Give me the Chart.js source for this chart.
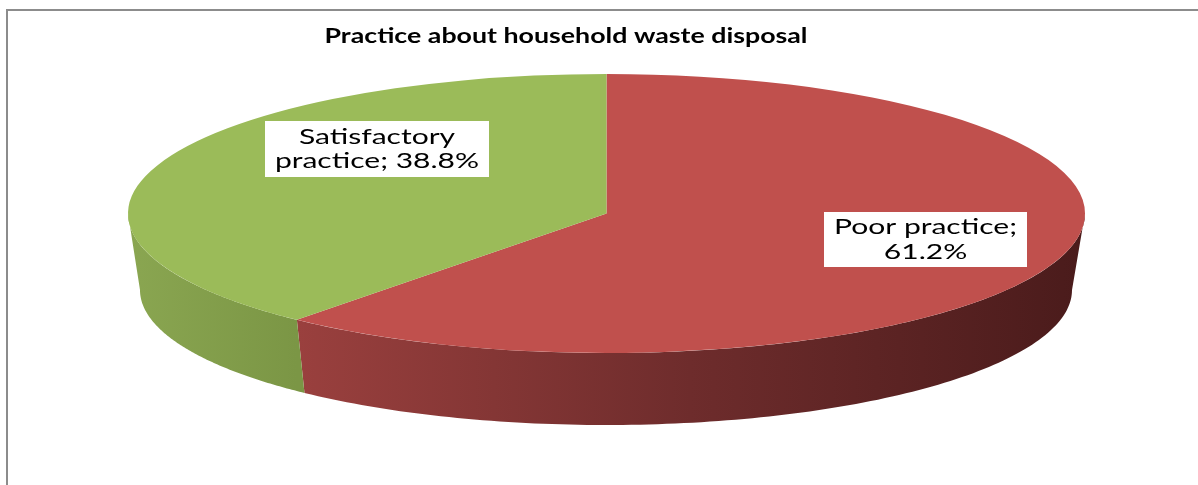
<!DOCTYPE html>
<html><head><meta charset="utf-8">
<script src="https://cdn.jsdelivr.net/npm/chart.js@4/dist/chart.umd.min.js"></script>
<style>html,body{margin:0;padding:0;background:#fff;overflow:hidden}canvas{display:block}</style>
</head><body>
<canvas id="c" width="1198" height="485"></canvas>
<script>
// ---- data ----
const chartTitle = 'Practice about household waste disposal';
const categories = ['Poor practice', 'Satisfactory practice'];
const percentages = [61.2, 38.8];
const topColors = ['#C0504D', '#9BBB59'];
// side wall gradient colours (left -> right)
const sideColors = [['#9a403e', '#6e2c2c', '#4a1b1b'], ['#8aa651', '#7b9645']];

// ---- layout (not data) ----
const TOP = {cx: 606.5, cy: 213.5, rx: 478.5, ry: 139.5};
const BOT = {cx: 606, cy: 290, rx: 466, ry: 135};
const labelBoxes = [
  {x: 824, y: 212, w: 203, h: 55},
  {x: 265, y: 121, w: 224, h: 56}
];
const LABEL_FONT = '21px Lato';
const TITLE_FONT = 'bold 20px Lato';

function intersect(a, b, lo, hi) {
  const out = [];
  for (let k = -1; k <= 1; k++) {
    const s = Math.max(a + k * 2 * Math.PI, lo), e = Math.min(b + k * 2 * Math.PI, hi);
    if (e > s) out.push([s, e]);
  }
  return out;
}

const pie3d = {
  id: 'pie3d',
  beforeDraw(chart) {
    const ctx = chart.ctx;
    ctx.save();
    ctx.fillStyle = '#fff';
    ctx.fillRect(0, 0, chart.width, chart.height);
    ctx.fillStyle = '#8c8c8c';
    ctx.fillRect(6, 9, chart.width - 6, 2);
    ctx.fillRect(6, 9, 2, chart.height - 9);
    ctx.restore();
  },
  beforeDatasetsDraw(chart) {
    const ctx = chart.ctx;
    const meta = chart.getDatasetMeta(0);
    meta.data.forEach((arc, i) => {
      const p = arc.getProps(['startAngle', 'endAngle'], true);
      intersect(p.startAngle, p.endAngle, 0, Math.PI).forEach(([a, b]) => {
        ctx.save();
        ctx.beginPath();
        const n = 120;
        for (let j = 0; j <= n; j++) {
          const t = a + (b - a) * j / n;
          ctx.lineTo(TOP.cx + TOP.rx * Math.cos(t), TOP.cy + TOP.ry * Math.sin(t));
        }
        for (let j = n; j >= 0; j--) {
          const t = a + (b - a) * j / n;
          ctx.lineTo(BOT.cx + BOT.rx * Math.cos(t), BOT.cy + BOT.ry * Math.sin(t));
        }
        ctx.closePath();
        const x0 = TOP.cx + TOP.rx * Math.cos(b), x1 = TOP.cx + TOP.rx * Math.cos(a);
        const g = ctx.createLinearGradient(x0, 0, x1, 0);
        const cols = sideColors[i];
        cols.forEach((c, k) => g.addColorStop(k / (cols.length - 1), c));
        ctx.fillStyle = g;
        ctx.fill();
        ctx.restore();
      });
    });
    // squash the flat pie into the tilted top face
    const arc0 = meta.data[0];
    const r = arc0.outerRadius;
    ctx.save();
    ctx.translate(TOP.cx, TOP.cy);
    ctx.scale(TOP.rx / r, TOP.ry / r);
    ctx.translate(-arc0.x, -arc0.y);
  },
  afterDatasetsDraw(chart) {
    chart.ctx.restore();
  },
  afterDraw(chart) {
    const ctx = chart.ctx;
    ctx.save();
    // title
    ctx.font = TITLE_FONT;
    const tsx = 483 / ctx.measureText(chartTitle).width;
    ctx.fillStyle = '#000';
    ctx.textAlign = 'center';
    ctx.textBaseline = 'alphabetic';
    ctx.save();
    ctx.translate(566, 43);
    ctx.scale(tsx, 1);
    ctx.fillText(chartTitle, 0, 0);
    ctx.restore();
    // data labels
    ctx.font = LABEL_FONT;
    const sx = 183 / ctx.measureText('Poor practice;').width;
    const maxW = 220;
    categories.forEach((cat, i) => {
      const words = (cat + '; ' + percentages[i].toFixed(1) + '%').split(' ');
      const lines = [];
      let cur = '';
      words.forEach(w => {
        const test = cur ? cur + ' ' + w : w;
        if (cur && ctx.measureText(test).width * sx > maxW) { lines.push(cur); cur = w; }
        else cur = test;
      });
      if (cur) lines.push(cur);
      const b = labelBoxes[i];
      ctx.fillStyle = '#fff';
      ctx.fillRect(b.x, b.y, b.w, b.h);
      ctx.fillStyle = '#000';
      const lh = 24.5;
      const firstBase = b.y + b.h / 2 - (lines.length - 1) * lh / 2 + 7;
      lines.forEach((ln, k) => {
        ctx.save();
        ctx.translate(b.x + b.w / 2, firstBase + k * lh);
        ctx.scale(sx, 1);
        ctx.fillText(ln, 0, 0);
        ctx.restore();
      });
    });
    ctx.restore();
  }
};

new Chart(document.getElementById('c'), {
  type: 'pie',
  data: {
    labels: categories,
    datasets: [{data: percentages, backgroundColor: topColors, borderWidth: 0, hoverOffset: 0}]
  },
  options: {
    responsive: false,
    animation: false,
    events: [],
    layout: {padding: {left: 406.5, right: 391.5, top: 13.5, bottom: 71.5}},
    plugins: {legend: {display: false}, tooltip: {enabled: false}, title: {display: false}}
  },
  plugins: [pie3d]
});
</script>
</body></html>
